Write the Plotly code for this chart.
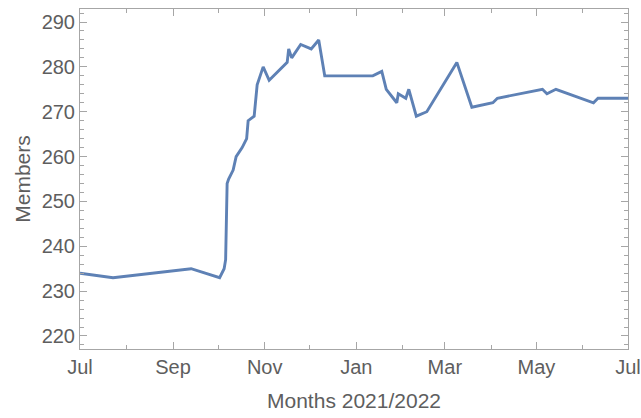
import plotly.graph_objects as go

dates = [
    "2021-07-01", "2021-07-23", "2021-09-13", "2021-09-23", "2021-10-02",
    "2021-10-05", "2021-10-06", "2021-10-07", "2021-10-08", "2021-10-11",
    "2021-10-13", "2021-10-17", "2021-10-20", "2021-10-21", "2021-10-25",
    "2021-10-27", "2021-10-31", "2021-11-04", "2021-11-16", "2021-11-17",
    "2021-11-19", "2021-11-25", "2021-12-02", "2021-12-07", "2021-12-11",
    "2022-01-12", "2022-01-18", "2022-01-21", "2022-01-28", "2022-01-29",
    "2022-02-03", "2022-02-05", "2022-02-10", "2022-02-17", "2022-03-09",
    "2022-03-19", "2022-04-02", "2022-04-05", "2022-05-05", "2022-05-08",
    "2022-05-14", "2022-06-08", "2022-06-11", "2022-07-01",
]
members = [
    234, 233, 235, 234, 233,
    235, 237, 254, 255, 257,
    260, 262, 264, 268, 269,
    276, 280, 277, 281, 284,
    282, 285, 284, 286, 278,
    278, 279, 275, 272, 274,
    273, 275, 269, 270, 281,
    271, 272, 273, 275, 274,
    275, 272, 273, 273,
]

font = "Liberation Sans, Arial, sans-serif"
frame = "#a6a6a6"
txt = "#5e5e5e"

fig = go.Figure(go.Scatter(
    x=dates, y=members, mode="lines",
    line=dict(color="#5e81b5", width=2.9),
))

fig.update_layout(
    width=641, height=418,
    margin=dict(l=80, r=13, t=9, b=69),
    paper_bgcolor="white", plot_bgcolor="white",
    showlegend=False,
    font=dict(family=font, color=txt, size=20),
)
fig.update_xaxes(
    automargin=False,
    range=["2021-07-01", "2022-07-01"],
    tick0="2021-07-01", dtick="M2", tickformat="%b",
    ticks="inside", ticklen=7, tickcolor=frame, tickwidth=1,
    minor=dict(dtick="M1", ticks="inside", ticklen=4, tickcolor=frame),
    showline=True, linecolor=frame, linewidth=1, mirror="allticks",
    showgrid=False, zeroline=False,
    tickfont=dict(size=20, color=txt),
    title=dict(text="Months 2021/2022", font=dict(size=21, color=txt), standoff=16),
)
fig.update_yaxes(
    automargin=False,
    range=[217.1, 292.9],
    tick0=220, dtick=10,
    ticks="inside", ticklen=7, tickcolor=frame, tickwidth=1,
    minor=dict(dtick=2, ticks="inside", ticklen=4, tickcolor=frame),
    showline=True, linecolor=frame, linewidth=1, mirror="allticks",
    showgrid=False, zeroline=False,
    tickfont=dict(size=20, color=txt),
    title=dict(text="Members", font=dict(size=21, color=txt), standoff=5),
)

fig.write_html(
    "out.html",
    config={"displayModeBar": False},
    post_script="document.body.style.margin='0';document.body.style.overflow='hidden';",
)
